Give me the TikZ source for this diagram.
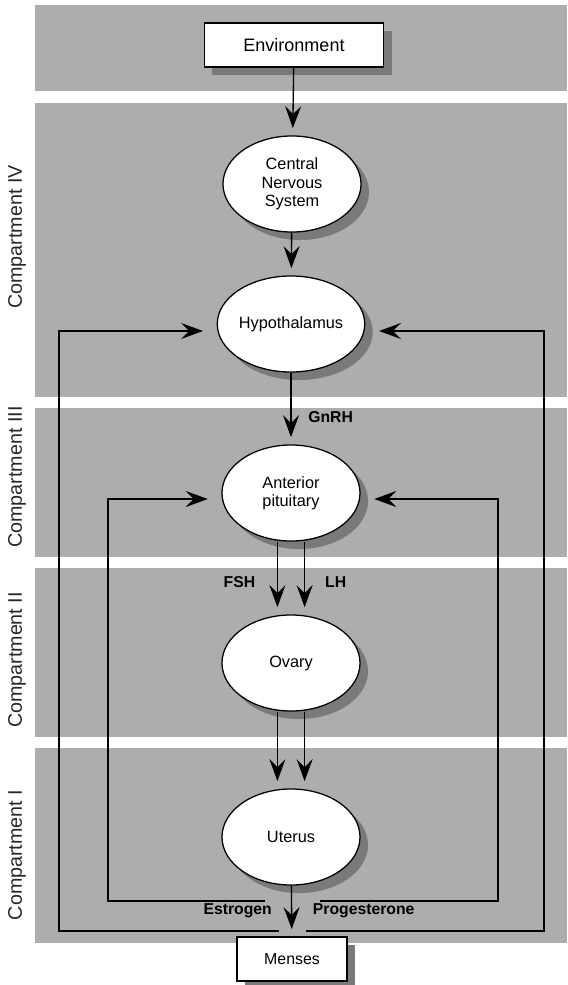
\documentclass[tikz,border=0pt]{standalone}
\usepackage{fontspec}
\setmainfont{Liberation Sans}
\usetikzlibrary{arrows.meta,positioning,shapes.geometric,shadows}

\begin{document}
\begin{tikzpicture}[x=0.025cm,y=-0.025cm,>={Stealth[length=5.5mm,width=4mm,inset=2mm]},
    organ/.style={ellipse,draw,line width=0.9pt,fill=white,minimum width=3.45cm,minimum height=2.4cm,
      inner sep=0pt,align=center,font=\fontsize{11.6}{13}\selectfont,
      drop shadow={shadow xshift=0.2cm,shadow yshift=-0.2cm,fill=black!52,opacity=1}},
    endbox/.style={rectangle,draw,line width=1pt,fill=white,inner sep=0pt,minimum height=1.1cm,
      drop shadow={shadow xshift=0.2cm,shadow yshift=-0.2cm,fill=black!52,opacity=1}},
    hormone/.style={font=\bfseries\fontsize{11.2}{13}\selectfont},
    flow/.style={->,line width=0.95pt,shorten >=0.18cm},
    feedback/.style={->,line width=0.95pt,shorten >=0.34cm}]
  \useasboundingbox (0,0) rectangle (567,985);
  \foreach \ya/\yb in {5/91,103/397,408/557,568/737,748/943}
    \fill[black!32] (35,\ya) rectangle (567,\yb);
  \foreach \yc/\nm in {237/IV,477/III,660/II,855/I}
    \node[rotate=90,text=black!85,font=\fontsize{14}{16}\selectfont] (comp\nm) at (17,\yc) {Compartment \nm};

  \node[endbox,minimum width=4.475cm,font=\fontsize{12.8}{14}\selectfont] (env) at (294,45) {Environment};
  \node[organ] (cns) at (292,184) {Central\\Nervous\\System};
  \node[organ] (hyp) at (291,324) {Hypothalamus};
  \node[organ] (ant) at (291,493) {Anterior\\pituitary};
  \node[organ] (ovary) at (291,663) {Ovary};
  \node[organ] (uterus) at (291,837) {Uterus};
  \node[endbox,minimum width=2.75cm,font=\fontsize{11.3}{13}\selectfont] (menses) at (292,959) {Menses};

  \draw[flow] (env) -- (cns);
  \draw[flow] (cns) -- (hyp);
  \draw[flow] (hyp) -- node[hormone,pos=0.62,right=0.3cm] (gnrh) {GnRH} (ant);
  \draw[flow] ([xshift=-0.34cm]ant.south) -- node[hormone,pos=0.56,left=0.42cm] (fsh) {FSH} ([xshift=-0.34cm]ovary.north);
  \draw[flow] ([xshift=0.34cm]ant.south) -- node[hormone,pos=0.56,right=0.38cm] (lh) {LH} ([xshift=0.34cm]ovary.north);
  \draw[flow] ([xshift=-0.34cm]ovary.south) -- ([xshift=-0.34cm]uterus.north);
  \draw[flow] ([xshift=0.34cm]ovary.south) -- ([xshift=0.34cm]uterus.north);
  \draw[flow] (uterus) -- node[hormone,midway,left=0.36cm] (estr) {Estrogen}
    node[hormone,midway,right=0.4cm] (prog) {Progesterone} (menses);

  \coordinate (outL) at (279,931);
  \coordinate (outR) at (306,931);
  \coordinate (inL) at (265,901);
  \coordinate (inR) at (320,901);
  \draw[feedback] (outL) -| (59,331) -- (hyp.west |- 0,331);
  \draw[feedback] (outR) -| (544,331) -- (hyp.east |- 0,331);
  \draw[feedback] (inL) -| (108,499) -- (ant.west |- 0,499);
  \draw[feedback] (inR) -| (498,499) -- (ant.east |- 0,499);
\end{tikzpicture}
\end{document}
